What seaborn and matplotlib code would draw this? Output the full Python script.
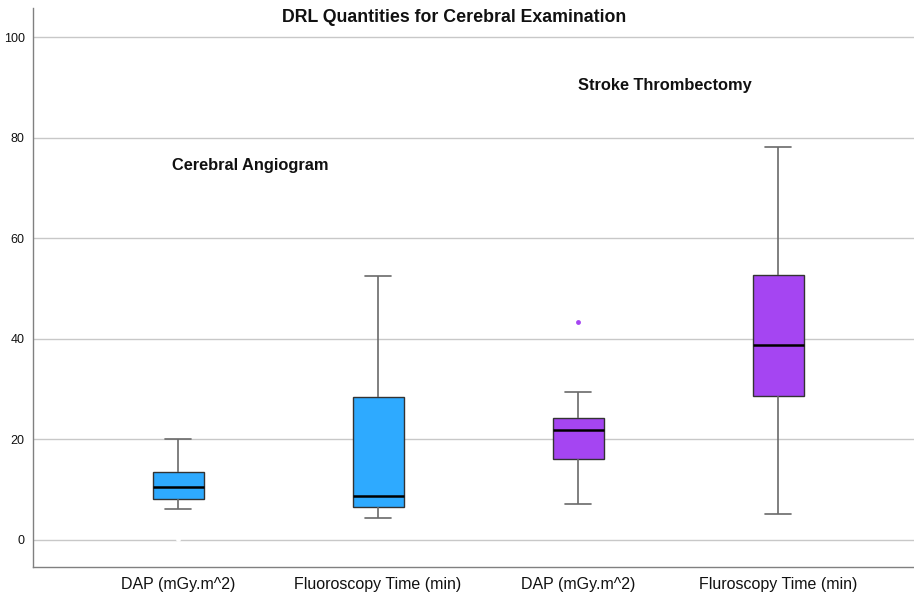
import numpy as np
import pandas as pd
import matplotlib
matplotlib.use("Agg")
import matplotlib.pyplot as plt
import seaborn as sns

# ---- data ----
groups = ["Cerebral Angiogram", "Cerebral Angiogram", "Stroke Thrombectomy", "Stroke Thrombectomy"]
measure_labels = ["DAP (mGy.m^2)", "Fluoroscopy Time (min)", "DAP (mGy.m^2)", "Fluroscopy Time (min)"]
whisker_low = [6.2, 4.4, 7.2, 5.2]
q1 = [8.15, 6.5, 16.0, 28.6]
median = [10.6, 8.75, 21.9, 38.8]
q3 = [13.4, 28.5, 24.3, 52.7]
whisker_high = [20.1, 52.5, 29.4, 78.1]
outliers = [[0.2], [], [43.3], []]
title = "DRL Quantities for Cerebral Examination"
group_colors = {"Cerebral Angiogram": "#2EAAFF", "Stroke Thrombectomy": "#A545F2"}
flier_colors = ["white", None, "#A545F2", None]

# Build sample sets whose quartiles reproduce the five-number summaries
rows = []
keys = []
for i in range(len(groups)):
    key = f"{groups[i]}|{i}"
    keys.append(key)
    vals = [whisker_low[i], q1[i], q1[i], median[i], median[i], q3[i], q3[i], whisker_high[i]]
    if outliers[i]:
        vals = vals + outliers[i]
    else:
        vals = vals + [median[i]]
    for v in vals:
        rows.append({"key": key, "group": groups[i], "value": v})
df = pd.DataFrame(rows)

sns.set_style("white")
plt.rcParams["font.family"] = ["Liberation Sans", "DejaVu Sans"]

fig = plt.figure(figsize=(9.14, 5.97), dpi=100)
ax = fig.add_axes([33 / 914, 1 - 567 / 597, 1 - 33 / 914, (567 - 8) / 597])

sns.boxplot(
    data=df, x="key", y="value", hue="group", order=keys,
    palette=group_colors, saturation=1, dodge=False, width=0.255, whis=1.5,
    linewidth=1.0, linecolor="#333333",
    boxprops=dict(edgecolor="#333333", linewidth=1.0),
    whiskerprops=dict(color="#6a6a6a", linewidth=1.2),
    capprops=dict(color="#6a6a6a", linewidth=1.2),
    medianprops=dict(color="black", linewidth=1.8),
    flierprops=dict(marker="o", markersize=3.5, markeredgewidth=0),
    legend=False, ax=ax, zorder=3,
)

# colour the outlier markers per box
fl_lines = [l for l in ax.lines if l.get_marker() == "o"]
for l in fl_lines:
    xd = np.asarray(l.get_xdata())
    if len(xd) == 0:
        continue
    idx = int(round(float(xd[0])))
    c = flier_colors[idx] or "black"
    l.set_markerfacecolor(c)
    l.set_markeredgecolor(c)
    l.set_zorder(4)

ax.set_xlim(-0.725, 3.68)
ax.set_ylim(-5.4, 105.8)
ax.set_yticks([0, 20, 40, 60, 80, 100])
ax.set_xticks(range(len(measure_labels)))
ax.set_xticklabels(measure_labels, fontsize=11.5, color="#111111")
ax.tick_params(axis="y", labelsize=9, colors="#111111", length=0, pad=6)
ax.tick_params(axis="x", length=0, pad=7)
ax.set_xlabel("")
ax.set_ylabel("")
ax.yaxis.grid(True, color="#c8c8c8", linewidth=1.0, zorder=0)
ax.set_axisbelow(True)
for s in ["top", "right"]:
    ax.spines[s].set_visible(False)
for s in ["left", "bottom"]:
    ax.spines[s].set_color("#808080")
    ax.spines[s].set_linewidth(1.0)

fig.text(454 / 914, 1 - 18 / 597, title, ha="center", va="center",
         fontsize=12.8, fontweight="bold", color="#111111")
ax.text(-0.03, 74.4, groups[0], ha="left", va="center", fontsize=11.8,
        fontweight="bold", color="#111111")
ax.text(2.0, 90.3, groups[2], ha="left", va="center", fontsize=11.8,
        fontweight="bold", color="#111111")

fig.savefig("out.png", dpi=100)
